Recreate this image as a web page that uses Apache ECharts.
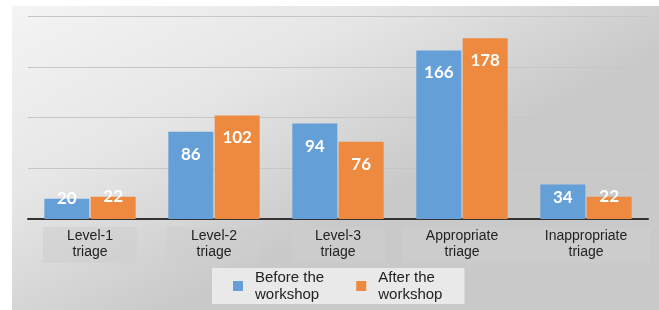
<!DOCTYPE html>
<html>
<head>
<meta charset="utf-8">
<script src="https://cdn.jsdelivr.net/npm/echarts@6/dist/echarts.min.js"></script>
<style>
html,body{margin:0;padding:0;background:#fff;}
#main{width:659px;height:310px;}
</style>
</head>
<body>
<div id="main"></div>
<script>
const categories = ['Level-1\ntriage', 'Level-2\ntriage', 'Level-3\ntriage', 'Appropriate\ntriage', 'Inappropriate\ntriage'];
const seriesNames = ['Before the\nworkshop', 'After the\nworkshop'];
const beforeValues = [20, 86, 94, 166, 34];
const afterValues = [22, 102, 76, 178, 22];
const yTicks = [0, 50, 100, 150, 200];

function labelFor(v) {
  if (v < 30) return { position: 'top', distance: -8 };
  if (v < 50) return { position: 'insideTop', distance: 5 };
  return { position: 'insideTop', distance: 14 };
}
function toData(arr) {
  return arr.map(v => ({ value: v, label: labelFor(v) }));
}

const chart = echarts.init(document.getElementById('main'), null, { renderer: 'canvas' });
const labelStyle = {
  show: true,
  color: '#ffffff',
  fontFamily: 'Lato',
  fontWeight: 'bold',
  fontSize: 17
};
chart.setOption({
  backgroundColor: '#ffffff',
  animation: false,
  graphic: [{
    type: 'rect',
    z: -100,
    silent: true,
    shape: { x: 12, y: 6, width: 647, height: 304 },
    style: {
      fill: new echarts.graphic.LinearGradient(0, 0, 0.25, 1, [
        { offset: 0, color: '#f4f4f4' },
        { offset: 0.5, color: '#e6e6e6' },
        { offset: 1, color: '#c9c9c9' }
      ])
    }
  }],
  grid: { left: 28, right: 11, top: 16, bottom: 91, containLabel: false },
  legend: {
    data: seriesNames,
    left: 212,
    top: 268,
    orient: 'horizontal',
    icon: 'rect',
    itemWidth: 10,
    itemHeight: 10,
    itemGap: 32,
    backgroundColor: 'rgba(238,238,238,0.85)',
    padding: [1, 22, 1, 21],
    textStyle: {
      fontFamily: 'Liberation Sans',
      fontSize: 15,
      lineHeight: 17,
      color: '#222222',
      padding: [0, 0, 0, 7]
    }
  },
  xAxis: {
    type: 'category',
    data: categories,
    axisLine: { lineStyle: { color: '#333333', width: 2 } },
    axisTick: { show: false },
    axisLabel: {
      interval: 0,
      margin: 8,
      fontFamily: 'Liberation Sans',
      fontSize: 14,
      lineHeight: 16,
      color: '#222222',
      backgroundColor: 'rgba(205,205,205,0.55)',
      padding: [1, 24, 3, 24]
    }
  },
  yAxis: {
    type: 'value',
    min: yTicks[0],
    max: yTicks[yTicks.length - 1],
    interval: yTicks[1] - yTicks[0],
    axisLine: { show: false },
    axisTick: { show: false },
    axisLabel: { show: false },
    splitLine: { lineStyle: { color: '#c6c6c6', width: 1 } }
  },
  series: [
    {
      name: seriesNames[0],
      type: 'bar',
      data: toData(beforeValues),
      barWidth: 45,
      barGap: '3%',
      itemStyle: { color: '#649fd8' },
      label: labelStyle
    },
    {
      name: seriesNames[1],
      type: 'bar',
      data: toData(afterValues),
      barWidth: 45,
      barGap: '3%',
      itemStyle: { color: '#ee8a40' },
      label: labelStyle
    }
  ]
});
</script>
</body>
</html>
